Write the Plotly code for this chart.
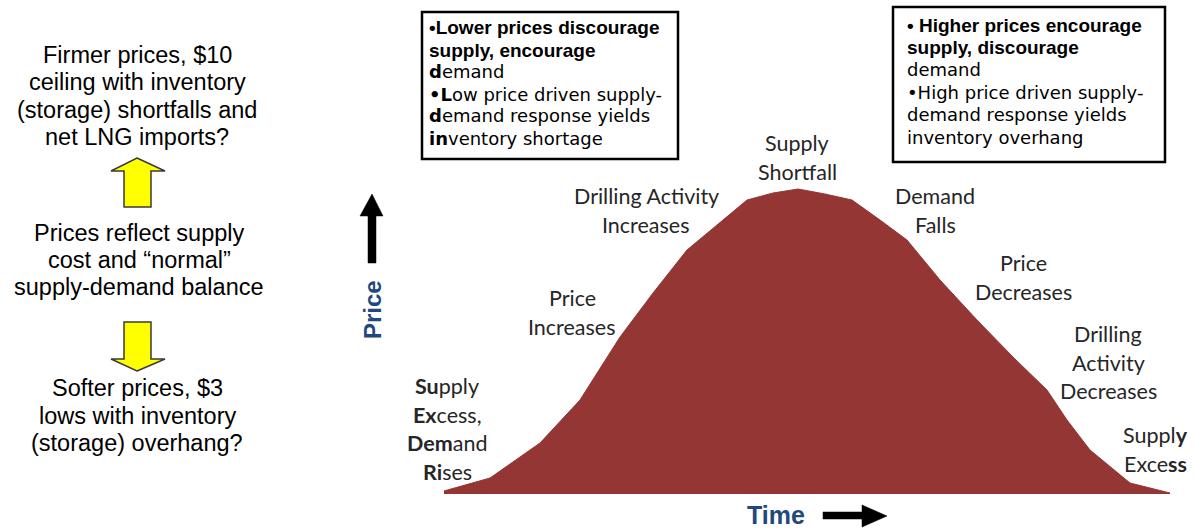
import plotly.graph_objects as go

W, H = 1195, 529

# ---- data ----
time_vals = [0, 46, 96, 136, 176, 209, 243, 303, 329, 354, 381, 408, 436, 463,
             496, 533, 569, 603, 623, 646, 686, 726]
price_vals = [3, 16, 51, 94, 157, 201, 244, 294, 301, 305, 300, 294, 274, 254,
              214, 174, 137, 104, 74, 44, 11, 1]

left_top = ["Firmer prices, $10", "ceiling with inventory",
            "(storage) shortfalls and", "net LNG imports?"]
left_mid = ["Prices reflect supply", "cost and \u201cnormal\u201d",
            "supply-demand balance"]
left_bot = ["Softer prices, $3", "lows with inventory",
            "(storage) overhang?"]

box1_lines = ["<b>\u2022Lower prices discourage</b>", "<b>supply, encourage</b>",
              "<b>d</b>emand", "<b>\u2022L</b>ow price driven supply-",
              "<b>d</b>emand response yields", "<b>in</b>ventory shortage"]
box2_lines = ["<b>\u2022 Higher prices encourage</b>", "<b>supply, discourage</b>",
              "demand", "\u2022High price driven supply-",
              "demand response yields", "inventory overhang"]

curve_labels = [
    (["Supply", "Shortfall"], 797, 143),
    (["Drilling Activity", "Increases"], 646, 196),
    (["Price", "Increases"], 572, 298),
    (["<b>Su</b>pply", "<b>Ex</b>cess,", "<b>Dem</b>and", "<b>Ri</b>ses"], 447, 386),
    (["Demand", "Falls"], 935, 196),
    (["Price", "Decreases"], 1024, 263),
    (["Drilling", "Activity", "Decreases"], 1108, 334),
    (["Suppl<b>y</b>", "Exce<b>ss</b>"], 1155, 435),
]


def X(px):
    return px / W


def Y(py):
    return 1 - py / H


fig = go.Figure()
fig.add_trace(go.Scatter(
    x=time_vals, y=price_vals, mode="lines", fill="tozeroy",
    fillcolor="#943634", line=dict(color="#943634", width=1),
    hoverinfo="skip", showlegend=False))

base_py, top_py = 494, 181
fig.update_layout(
    width=W, height=H, margin=dict(l=0, r=0, t=0, b=0),
    paper_bgcolor="white", plot_bgcolor="white", showlegend=False,
    hovermode=False,
    xaxis=dict(domain=[X(444), X(1170)], range=[0, 726], visible=False,
               fixedrange=True),
    yaxis=dict(domain=[Y(base_py), Y(top_py)], range=[0, base_py - top_py],
               visible=False, fixedrange=True),
)

ann = []


def add_line(t, x, y, size, family, color="#000000", anchor="center"):
    ann.append(dict(x=X(x), y=Y(y), xref="paper", yref="paper",
                    text=t, showarrow=False, xanchor=anchor, yanchor="middle",
                    font=dict(size=size, family=family, color=color)))


def add_lines(lines, cx, y0, dy, size, family, color="#000000",
              anchor="center"):
    for i, t in enumerate(lines):
        add_line(t, cx, y0 + i * dy, size, family, color, anchor)


arial = "Liberation Sans, Arial, sans-serif"
dejavu = "DejaVu Sans, sans-serif"
calib = "Lato, Carlito, Calibri, sans-serif"

add_lines(left_top, 137, 55, 27.3, 23.5, arial)
add_lines(left_mid, 139, 233, 27, 23.5, arial)
add_lines(left_bot, 137, 388, 27.5, 23.5, arial)


def add_box(lines, x0, y0, dy):
    for i, t in enumerate(lines):
        full_bold = t.startswith("<b>") and t.endswith("</b>")
        if full_bold:
            add_line(t, x0, y0 + i * dy, 19, arial, anchor="left")
        else:
            add_line(t, x0, y0 + i * dy, 18, dejavu, anchor="left")


add_box(box1_lines, 427, 28, 22)
add_box(box2_lines, 905, 25, 22.4)

for lines, cx, y0 in curve_labels:
    add_lines(lines, cx, y0, 28.7, 21.5, calib, color="#262626")

# axis titles
ann.append(dict(x=X(372), y=Y(310), xref="paper", yref="paper", text="<b>Price</b>",
                textangle=-90, showarrow=False, xanchor="center", yanchor="middle",
                font=dict(size=24, family=arial, color="#1F497D")))
ann.append(dict(x=X(776), y=Y(515), xref="paper", yref="paper", text="<b>Time</b>",
                showarrow=False, xanchor="center", yanchor="middle",
                font=dict(size=25, family=arial, color="#1F497D")))

fig.update_layout(annotations=ann)


def path(points):
    return "M " + " L ".join(f"{X(a):.5f},{Y(b):.5f}" for a, b in points) + " Z"


shapes = []
# boxes
shapes.append(dict(type="rect", xref="paper", yref="paper", x0=X(422), x1=X(678),
                   y0=Y(159), y1=Y(12), line=dict(color="black", width=2.5)))
shapes.append(dict(type="rect", xref="paper", yref="paper", x0=X(893), x1=X(1165),
                   y0=Y(162), y1=Y(7), line=dict(color="black", width=2.5)))
# yellow arrows
up = [(137, 158), (165, 171), (151, 171), (151, 207), (124, 207), (124, 171), (111, 171)]
down = [(137, 371), (165, 359), (151, 359), (151, 322), (124, 322), (124, 359), (111, 359)]
for pts in (up, down):
    shapes.append(dict(type="path", xref="paper", yref="paper", path=path(pts),
                       fillcolor="#FFFF00", line=dict(color="#3a3a3a", width=1.5)))
# black price arrow
parr = [(372, 194), (383, 216), (376, 216), (376, 263), (368, 263), (368, 216), (360, 216)]
shapes.append(dict(type="path", xref="paper", yref="paper", path=path(parr),
                   fillcolor="black", line=dict(color="black", width=0.5)))
# black time arrow
tarr = [(887, 516), (862, 505), (862, 512), (823, 512), (823, 519), (862, 519), (862, 527)]
shapes.append(dict(type="path", xref="paper", yref="paper", path=path(tarr),
                   fillcolor="black", line=dict(color="black", width=0.5)))

fig.update_layout(shapes=shapes)

fig.write_html("out.html", config={"displayModeBar": False, "staticPlot": True},
               post_script="document.body.style.margin='0px';")
